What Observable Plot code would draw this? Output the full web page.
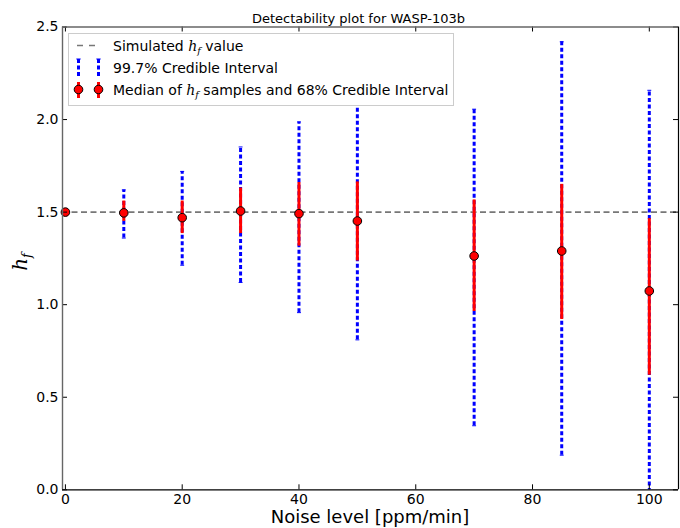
<!DOCTYPE html>
<html>
<head>
<meta charset="utf-8">
<script src="https://cdn.jsdelivr.net/npm/d3@7"></script>
<script src="https://cdn.jsdelivr.net/npm/@observablehq/plot@0.6"></script>
<style>
  html, body { margin: 0; padding: 0; background: white; }
  svg { font-family: "DejaVu Sans", sans-serif; }
</style>
</head>
<body>
<div id="chart"></div>
<script>
const noise   = [0, 10, 20, 30, 40, 50, 70, 85, 100];
const median  = [1.50, 1.496, 1.47, 1.506, 1.492, 1.452, 1.263, 1.29, 1.074];
const lo68    = [1.50, 1.45, 1.384, 1.384, 1.316, 1.236, 0.963, 0.92, 0.619];
const hi68    = [1.50, 1.56, 1.56, 1.63, 1.66, 1.663, 1.566, 1.65, 1.465];
const lo997   = [1.50, 1.36, 1.213, 1.12, 0.957, 0.81, 0.346, 0.187, -0.05];
const hi997   = [1.50, 1.62, 1.72, 1.852, 1.987, 2.15, 2.056, 2.42, 2.158];
const simulated = 1.5;
const xTicks = [0, 20, 40, 60, 80, 100];
const yTicks = [0, 0.5, 1.0, 1.5, 2.0, 2.5];
const xDomain = [-0.5, 105];
const yDomain = [0, 2.5];

const data = noise.map((n, i) => ({
  noise: n, median: median[i], lo68: lo68[i], hi68: hi68[i], lo997: lo997[i], hi997: hi997[i]
}));
const bars = data.filter(d => d.hi997 > d.lo997);

const capSymbol = {
  draw(context, size) {
    const r = Math.sqrt(size) / 2;
    context.moveTo(-r, 0);
    context.lineTo(r, 0);
  }
};

const W = 680, H = 528;
const mL = 62, mR = 2, mT = 26.5, mB = 38.7;
const innerH = H - mT - mB, innerW = W - mL - mR;
const tickLen = 5;

const plot = Plot.plot({
  width: W,
  height: H,
  marginLeft: mL,
  marginRight: mR,
  marginTop: mT,
  marginBottom: mB,
  style: { fontFamily: "DejaVu Sans, sans-serif", fontSize: "14px", color: "black", background: "white", overflow: "visible" },
  x: { domain: xDomain, ticks: xTicks, label: null },
  y: { domain: yDomain, ticks: yTicks, label: null },
  marks: [
    Plot.ruleY([simulated], { stroke: "#777", strokeWidth: 1.6, strokeDasharray: "6,3.5" }),
    Plot.ruleX(bars, { x: "noise", y1: "lo997", y2: "hi997", stroke: "#0000ff", strokeWidth: 3, strokeDasharray: "4,2.5", clip: true }),
    Plot.dot(bars.filter(d => d.lo997 >= 0), { x: "noise", y: "lo997", symbol: capSymbol, r: 2.2, stroke: "#0000ff", strokeWidth: 1, fill: "none" }),
    Plot.dot(bars, { x: "noise", y: "hi997", symbol: capSymbol, r: 2.2, stroke: "#0000ff", strokeWidth: 1, fill: "none" }),
    Plot.ruleX(bars, { x: "noise", y1: "lo68", y2: "hi68", stroke: "#ff0000", strokeWidth: 3 }),
    Plot.dot(data, { x: "noise", y: "median", r: 4.3, fill: "#ff0000", stroke: "black", strokeWidth: 1 }),
    // inward ticks on all four sides
    Plot.ruleX(xTicks, { x: d => d, insetTop: innerH - tickLen, stroke: "black" }),
    Plot.ruleX(xTicks, { x: d => d, insetBottom: innerH - tickLen, stroke: "black" }),
    Plot.ruleY(yTicks, { y: d => d, insetRight: innerW - tickLen, stroke: "black" }),
    Plot.ruleY(yTicks, { y: d => d, insetLeft: innerW - tickLen, stroke: "black" }),
    // frame
    Plot.ruleY([yDomain[1]], { stroke: "#666", strokeWidth: 1.4 }),
    Plot.ruleX([xDomain[0]], { stroke: "#666", strokeWidth: 1.4 }),
    Plot.ruleY([yDomain[0]], { stroke: "black", strokeWidth: 1.2 }),
    Plot.ruleX([xDomain[1]], { stroke: "black", strokeWidth: 1.2 }),
    Plot.axisX(xTicks, { tickSize: 0, tickPadding: 4, fontSize: 14, tickFormat: d => String(d) }),
    Plot.axisY(yTicks, { tickSize: 0, tickPadding: 4, fontSize: 14, tickFormat: d => d.toFixed(1) })
  ]
});

document.getElementById("chart").appendChild(plot);

// Overlay text and legend
const svg = d3.select(plot);
const font = "DejaVu Sans, sans-serif";

svg.append("text")
  .attr("x", 358.5).attr("y", 22.5)
  .attr("text-anchor", "middle")
  .attr("font-family", font).attr("font-size", 13)
  .attr("fill", "black")
  .text("Detectability plot for WASP-103b");

svg.append("text")
  .attr("x", 370).attr("y", 523)
  .attr("text-anchor", "middle")
  .attr("font-family", font).attr("font-size", 18)
  .attr("fill", "black")
  .text("Noise level [ppm/min]");

const yl = svg.append("text")
  .attr("transform", "translate(27,262) rotate(-90)")
  .attr("text-anchor", "middle")
  .attr("font-family", "DejaVu Serif, serif")
  .attr("font-style", "italic")
  .attr("font-size", 20)
  .attr("fill", "black");
yl.append("tspan").text("h");
yl.append("tspan").attr("font-size", 13).attr("dy", 4).text("f");

// Legend
const lg = svg.append("g").attr("text-anchor", "start");
lg.append("rect")
  .attr("x", 68.5).attr("y", 33.5).attr("width", 385).attr("height", 72)
  .attr("fill", "white").attr("stroke", "#ccc").attr("stroke-width", 1);

// row 1: dashed line
lg.append("line")
  .attr("x1", 77).attr("x2", 98).attr("y1", 45.5).attr("y2", 45.5)
  .attr("stroke", "#777").attr("stroke-width", 1.6).attr("stroke-dasharray", "6,6");
const t1 = lg.append("text").attr("x", 113).attr("y", 50.5).attr("text-anchor", "start")
  .attr("font-family", font).attr("font-size", 14).attr("fill", "black");
t1.append("tspan").text("Simulated ");
t1.append("tspan").attr("font-family", "DejaVu Serif, serif").attr("font-style", "italic").text("h");
t1.append("tspan").attr("font-family", "DejaVu Serif, serif").attr("font-style", "italic").attr("font-size", 9.5).attr("dy", 3).text("f");
t1.append("tspan").attr("dy", -3).text(" value");

// row 2: blue dashed bars
[78.5, 98.5].forEach(x => {
  lg.append("line").attr("x1", x).attr("x2", x).attr("y1", 59).attr("y2", 77)
    .attr("stroke", "#0000ff").attr("stroke-width", 3).attr("stroke-dasharray", "4,2.5");
  lg.append("line").attr("x1", x - 2.2).attr("x2", x + 2.2).attr("y1", 59).attr("y2", 59)
    .attr("stroke", "#0000ff").attr("stroke-width", 1);
});
lg.append("text").attr("x", 113).attr("y", 73).attr("text-anchor", "start")
  .attr("font-family", font).attr("font-size", 14).attr("fill", "black")
  .text("99.7% Credible Interval");

// row 3: red markers with bars
[78.5, 98.5].forEach(x => {
  lg.append("line").attr("x1", x).attr("x2", x).attr("y1", 82).attr("y2", 98)
    .attr("stroke", "#ff0000").attr("stroke-width", 3);
  lg.append("circle").attr("cx", x).attr("cy", 89.5).attr("r", 4.3)
    .attr("fill", "#ff0000").attr("stroke", "black").attr("stroke-width", 1);
});
const t3 = lg.append("text").attr("x", 113).attr("y", 94.5).attr("text-anchor", "start")
  .attr("font-family", font).attr("font-size", 14).attr("fill", "black");
t3.append("tspan").text("Median of ");
t3.append("tspan").attr("font-family", "DejaVu Serif, serif").attr("font-style", "italic").text("h");
t3.append("tspan").attr("font-family", "DejaVu Serif, serif").attr("font-style", "italic").attr("font-size", 9.5).attr("dy", 3).text("f");
t3.append("tspan").attr("dy", -3).text(" samples and 68% Credible Interval");
</script>
</body>
</html>
